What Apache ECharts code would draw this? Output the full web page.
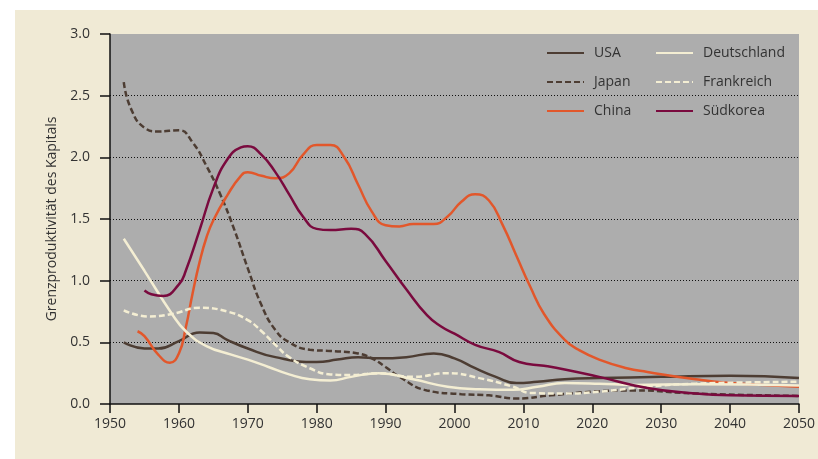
<!DOCTYPE html>
<html>
<head>
<meta charset="utf-8">
<script src="https://cdn.jsdelivr.net/npm/echarts@6/dist/echarts.min.js"></script>
<style>
html,body{margin:0;padding:0;background:#ffffff;}
#wrap{position:relative;width:818px;height:459px;background:#ffffff;overflow:hidden;}
#card{position:absolute;left:15px;top:10px;width:803px;height:449px;background:#f0ead5;}
#chart{position:absolute;left:0;top:0;width:818px;height:459px;}
</style>
</head>
<body>
<div id="wrap"><div id="card"></div><div id="chart"></div></div>
<script>
// ---- data (year, value) ----
const usaYears  = [1952,1955,1957,1960,1963,1965,1967,1970,1974,1980,1983,1986,1989,1993,1997,2000,2003,2006,2009,2012,2016,2021,2030,2040,2050];
const usaValues = [0.50,0.45,0.45,0.51,0.58,0.575,0.52,0.45,0.38,0.34,0.36,0.38,0.37,0.38,0.41,0.37,0.29,0.22,0.17,0.18,0.20,0.21,0.22,0.23,0.21];

const japanYears  = [1952,1953,1955,1957,1960,1962,1964,1966,1968,1970,1972,1974,1976,1979,1982,1986,1988,1990,1992,1996,2001,2005,2009,2014,2020,2026,2035,2050];
const japanValues = [2.61,2.40,2.24,2.21,2.22,2.12,1.93,1.70,1.42,1.10,0.80,0.60,0.50,0.44,0.43,0.41,0.37,0.30,0.22,0.11,0.08,0.07,0.045,0.07,0.10,0.11,0.085,0.065];

const chinaYears  = [1954,1955,1957,1958.7,1960,1961,1962,1963,1964,1965,1967,1969,1970,1972,1974,1976,1978,1980,1982,1984,1986,1988,1990,1992,1994,1997,1999,2001,2003,2005,2007,2009,2011,2013,2016,2018,2021,2025,2028,2035,2040,2050];
const chinaValues = [0.59,0.55,0.40,0.335,0.41,0.62,0.90,1.15,1.35,1.49,1.69,1.85,1.88,1.85,1.83,1.87,2.02,2.10,2.10,2.00,1.78,1.56,1.45,1.44,1.46,1.46,1.52,1.64,1.70,1.65,1.45,1.20,0.95,0.73,0.52,0.44,0.36,0.29,0.26,0.20,0.17,0.14];

const deYears  = [1952,1955,1959,1961,1964,1967.6,1970,1973,1976,1979,1982,1985,1989,1994,1999,2003.6,2008.5,2012,2016,2021,2026,2035,2050];
const deValues = [1.34,1.08,0.73,0.59,0.47,0.40,0.36,0.30,0.24,0.20,0.19,0.22,0.25,0.20,0.14,0.12,0.115,0.14,0.17,0.165,0.155,0.16,0.15];

const frYears  = [1952,1955.6,1959,1963,1967,1970,1972,1974,1976,1979,1982,1985,1989,1994,1999,2003.6,2008.5,2011,2016,2021,2028,2035,2050];
const frValues = [0.76,0.71,0.73,0.78,0.75,0.68,0.59,0.48,0.38,0.29,0.24,0.235,0.25,0.22,0.25,0.21,0.14,0.09,0.085,0.10,0.14,0.165,0.18];

const korYears  = [1955,1956,1957.7,1960,1961,1963,1965,1967,1969,1970,1972,1974,1976,1978,1980,1982,1985,1987,1990,1993,1996,1998,2000,2003,2006.5,2009.4,2013,2016,2021,2028,2035,2040,2050];
const korValues = [0.92,0.89,0.876,0.97,1.08,1.41,1.75,1.98,2.08,2.09,2.02,1.88,1.70,1.52,1.42,1.41,1.42,1.38,1.16,0.93,0.72,0.63,0.57,0.48,0.42,0.34,0.31,0.28,0.22,0.13,0.085,0.07,0.065];

const xTicks = [1950,1960,1970,1980,1990,2000,2010,2020,2030,2040,2050];
const yTicks = [0,0.5,1,1.5,2,2.5,3];

function pairs(xs, ys){ return xs.map((x,i)=>[x, ys[i]]); }

const FONT = '"Open Sans","Noto Sans",sans-serif';
const C_BROWN = '#4d3d33', C_CHINA = '#e2572b', C_CREAM = '#f4eed3', C_KOREA = '#7a0a3e';

function line(name, data, color, dashed){
  return {
    name, type:'line', data, smooth:0.5, symbol:'none', showSymbol:false,
    lineStyle:{color, width:2.5, type: dashed ? [6,3] : 'solid'},
    itemStyle:{color},
    emphasis:{disabled:true}, animation:false
  };
}

const chart = echarts.init(document.getElementById('chart'), null, {renderer:'canvas'});
const legendCommon = {
  orient:'vertical', itemWidth:37, itemHeight:14, itemGap:15, top:46, padding:0,
  itemStyle:{opacity:0, borderWidth:0},
  textStyle:{fontFamily:FONT, fontSize:14, color:'#333', padding:[0,0,0,5]},
  selectedMode:false
};
chart.setOption({
  animation:false,
  backgroundColor:'transparent',
  grid:{left:110, right:18, top:34, bottom:55, show:true, backgroundColor:'#adadad', borderWidth:0},
  legend:[
    Object.assign({left:546, data:['USA','Japan','China']}, legendCommon),
    Object.assign({left:655, data:['Deutschland','Frankreich','Südkorea']}, legendCommon)
  ],
  xAxis:{
    type:'value', min:xTicks[0], max:xTicks[xTicks.length-1], interval:10,
    axisLine:{show:true, lineStyle:{color:'#111', width:1.5}},
    axisTick:{show:true, length:9, lineStyle:{color:'#111', width:1.5}},
    axisLabel:{fontFamily:FONT, fontSize:14, color:'#333', margin:13, formatter:v=>String(v)},
    splitLine:{show:false}
  },
  yAxis:{
    type:'value', min:yTicks[0], max:yTicks[yTicks.length-1], interval:0.5,
    name:'Grenzproduktivität des Kapitals', nameLocation:'middle', nameGap:48,
    nameTextStyle:{fontFamily:FONT, fontSize:14, color:'#333'},
    axisLine:{show:true, lineStyle:{color:'#111', width:1.5}},
    axisTick:{show:true, length:10, lineStyle:{color:'#111', width:1.5}},
    axisLabel:{fontFamily:FONT, fontSize:14, color:'#333', margin:20, formatter:v=>v.toFixed(1)},
    splitLine:{show:true, showMinLine:false, showMaxLine:false, lineStyle:{color:'#111', width:1, type:[1,2]}}
  },
  series:[
    line('USA', pairs(usaYears, usaValues), C_BROWN, false),
    line('Japan', pairs(japanYears, japanValues), C_BROWN, true),
    line('China', pairs(chinaYears, chinaValues), C_CHINA, false),
    line('Deutschland', pairs(deYears, deValues), C_CREAM, false),
    line('Frankreich', pairs(frYears, frValues), C_CREAM, true),
    line('Südkorea', pairs(korYears, korValues), C_KOREA, false)
  ]
});
</script>
</body>
</html>
